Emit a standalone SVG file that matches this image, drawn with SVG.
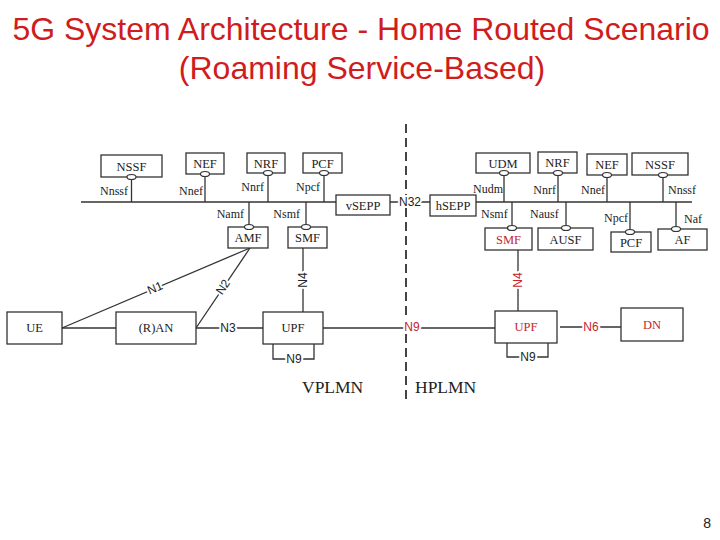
<svg xmlns="http://www.w3.org/2000/svg" width="720" height="540" viewBox="0 0 720 540">
<style>
.box{fill:#fff;stroke:#333;stroke-width:1.3}
.ln{stroke:#333;stroke-width:1.3;fill:none}
.bub{fill:#fff;stroke:#333;stroke-width:1.2}
.nt{font-family:"Liberation Serif","Times New Roman",serif;font-size:12.5px;fill:#222;text-anchor:middle}
.lb{font-family:"Liberation Serif","Times New Roman",serif;font-size:12px;fill:#222}
.if{font-family:"Liberation Sans",Arial,sans-serif;font-size:12px;fill:#222;text-anchor:middle;dominant-baseline:central;paint-order:stroke;stroke:#fff;stroke-width:4px;stroke-linejoin:round}
.nt.red,.if.red{fill:#c8232c}
.title{font-family:"Liberation Sans",Arial,sans-serif;font-size:32px;fill:#d01c1c;text-anchor:middle}
.plmn{font-family:"Liberation Serif","Times New Roman",serif;font-size:17.5px;fill:#222}
</style>
<text class="title" x="361" y="40">5G System Architecture - Home Routed Scenario</text>
<text class="title" x="362" y="79">(Roaming Service-Based)</text>
<line x1="406" y1="124" x2="406" y2="404" stroke="#444" stroke-width="2" stroke-dasharray="9,5"/>
<g id="connectors">
<line class="ln" x1="81" y1="202" x2="336" y2="202"/>
<line class="ln" x1="476" y1="202" x2="692" y2="202"/>
<line class="ln" x1="131.5" y1="177" x2="131.5" y2="202"/>
<line class="ln" x1="205" y1="174" x2="205" y2="202"/>
<line class="ln" x1="268" y1="173" x2="268" y2="202"/>
<line class="ln" x1="324" y1="173" x2="324" y2="202"/>
<line class="ln" x1="249" y1="202" x2="249" y2="227"/>
<line class="ln" x1="306" y1="202" x2="306" y2="227"/>
<line class="ln" x1="504" y1="173" x2="504" y2="202"/>
<line class="ln" x1="558" y1="173" x2="558" y2="202"/>
<line class="ln" x1="607" y1="175" x2="607" y2="202"/>
<line class="ln" x1="663" y1="175" x2="663" y2="202"/>
<line class="ln" x1="512" y1="202" x2="512" y2="228"/>
<line class="ln" x1="566" y1="202" x2="566" y2="228"/>
<line class="ln" x1="630" y1="202" x2="630" y2="232"/>
<line class="ln" x1="676" y1="202" x2="676" y2="229"/>
<line class="ln" x1="390" y1="202" x2="430" y2="202"/>
<line class="ln" x1="62" y1="328" x2="116" y2="328"/>
<line class="ln" x1="62" y1="328" x2="250" y2="248"/>
<line class="ln" x1="196" y1="328" x2="250" y2="248"/>
<line class="ln" x1="196" y1="328" x2="263" y2="328"/>
<line class="ln" x1="303" y1="248" x2="303" y2="312"/>
<path class="ln" d="M273,344 V359 H314 V344"/>
<line class="ln" x1="323" y1="328" x2="495" y2="328"/>
<line class="ln" x1="518" y1="250" x2="518" y2="311"/>
<path class="ln" d="M507,343 V357 H548 V343"/>
<line class="ln" x1="560" y1="327" x2="621" y2="327"/>
<text class="lb" x="128" y="195" text-anchor="end">Nnssf</text>
<text class="lb" x="203" y="195" text-anchor="end">Nnef</text>
<text class="lb" x="264" y="191" text-anchor="end">Nnrf</text>
<text class="lb" x="320" y="191" text-anchor="end">Npcf</text>
<text class="lb" x="244" y="218" text-anchor="end">Namf</text>
<text class="lb" x="300" y="218" text-anchor="end">Nsmf</text>
<text class="lb" x="503" y="193" text-anchor="end">Nudm</text>
<text class="lb" x="556" y="194" text-anchor="end">Nnrf</text>
<text class="lb" x="605" y="194" text-anchor="end">Nnef</text>
<text class="lb" x="668" y="194">Nnssf</text>
<text class="lb" x="481" y="218">Nsmf</text>
<text class="lb" x="530" y="218">Nausf</text>
<text class="lb" x="628" y="222" text-anchor="end">Npcf</text>
<text class="lb" x="684" y="223">Naf</text>
<text class="if" x="410" y="202">N32</text>
<text class="if" x="155" y="288" transform="rotate(-23 155 288)">N1</text>
<text class="if" x="223" y="287" transform="rotate(-56 223 287)">N2</text>
<text class="if" x="228" y="328">N3</text>
<text class="if" x="303" y="280" transform="rotate(-90 303 280)">N4</text>
<text class="if" x="294" y="359">N9</text>
<text class="if red" x="412" y="327">N9</text>
<text class="if red" x="518" y="280" transform="rotate(-90 518 280)">N4</text>
<text class="if" x="528" y="357">N9</text>
<text class="if red" x="591" y="327">N6</text>
</g>
<g id="nssf-v"><rect class="box" x="101" y="155" width="61" height="22"/><text class="nt" x="131.5" y="170.5">NSSF</text><ellipse class="bub" cx="131.5" cy="177" rx="4.5" ry="2.5"/></g>
<g id="nef-v"><rect class="box" x="186" y="153" width="38" height="21"/><text class="nt" x="205" y="168">NEF</text><ellipse class="bub" cx="205" cy="174" rx="4.5" ry="2.5"/></g>
<g id="nrf-v"><rect class="box" x="247" y="153" width="38" height="20"/><text class="nt" x="266" y="167.5">NRF</text><ellipse class="bub" cx="268" cy="173" rx="4.5" ry="2.5"/></g>
<g id="pcf-v"><rect class="box" x="303" y="153" width="39" height="20"/><text class="nt" x="322.5" y="167.5">PCF</text><ellipse class="bub" cx="324" cy="173" rx="4.5" ry="2.5"/></g>
<g id="vsepp"><rect class="box" x="336" y="195" width="54" height="20"/><text class="nt" x="363" y="209.5">vSEPP</text></g>
<g id="amf"><rect class="box" x="228" y="227" width="40" height="21"/><text class="nt" x="248" y="242">AMF</text><ellipse class="bub" cx="249" cy="227" rx="4.5" ry="2.5"/></g>
<g id="smf-v"><rect class="box" x="288" y="227" width="39" height="21"/><text class="nt" x="307.5" y="242">SMF</text><ellipse class="bub" cx="306" cy="227" rx="4.5" ry="2.5"/></g>
<g id="hsepp"><rect class="box" x="430" y="195" width="46" height="21"/><text class="nt" x="453" y="210">hSEPP</text></g>
<g id="udm"><rect class="box" x="476" y="153" width="54" height="20"/><text class="nt" x="503" y="167.5">UDM</text><ellipse class="bub" cx="504" cy="173" rx="4.5" ry="2.5"/></g>
<g id="nrf-h"><rect class="box" x="538" y="152" width="39" height="21"/><text class="nt" x="557.5" y="167">NRF</text><ellipse class="bub" cx="558" cy="173" rx="4.5" ry="2.5"/></g>
<g id="nef-h"><rect class="box" x="587" y="154" width="40" height="21"/><text class="nt" x="607" y="169">NEF</text><ellipse class="bub" cx="607" cy="175" rx="4.5" ry="2.5"/></g>
<g id="nssf-h"><rect class="box" x="632" y="153" width="56" height="22"/><text class="nt" x="660" y="168.5">NSSF</text><ellipse class="bub" cx="663" cy="175" rx="4.5" ry="2.5"/></g>
<g id="smf-h"><rect class="box" x="485" y="228" width="47" height="22"/><text class="nt red" x="508.5" y="243.5">SMF</text><ellipse class="bub" cx="512" cy="228" rx="4.5" ry="2.5"/></g>
<g id="ausf"><rect class="box" x="538" y="228" width="55" height="22"/><text class="nt" x="565.5" y="243.5">AUSF</text><ellipse class="bub" cx="566" cy="228" rx="4.5" ry="2.5"/></g>
<g id="pcf-h"><rect class="box" x="611" y="232" width="40" height="20"/><text class="nt" x="631" y="246.5">PCF</text><ellipse class="bub" cx="630" cy="232" rx="4.5" ry="2.5"/></g>
<g id="af"><rect class="box" x="658" y="229" width="49" height="21"/><text class="nt" x="682.5" y="244">AF</text><ellipse class="bub" cx="676" cy="229" rx="4.5" ry="2.5"/></g>
<g id="ue"><rect class="box" x="7" y="312" width="55" height="32"/><text class="nt" x="34.5" y="332">UE</text></g>
<g id="ran"><rect class="box" x="116" y="312" width="80" height="32"/><text class="nt" x="156" y="332">(R)AN</text></g>
<g id="upf-v"><rect class="box" x="263" y="312" width="60" height="32"/><text class="nt" x="293" y="332">UPF</text></g>
<g id="upf-h"><rect class="box" x="495" y="311" width="62" height="32"/><text class="nt red" x="526" y="331">UPF</text></g>
<g id="dn"><rect class="box" x="621" y="308" width="62" height="33"/><text class="nt red" x="652" y="328.5">DN</text></g>
<text class="plmn" x="302" y="393">VPLMN</text>
<text class="plmn" x="415" y="393">HPLMN</text>
<text x="711" y="528" text-anchor="end" font-family="Liberation Sans, Arial, sans-serif" font-size="14" fill="#222">8</text>
</svg>
